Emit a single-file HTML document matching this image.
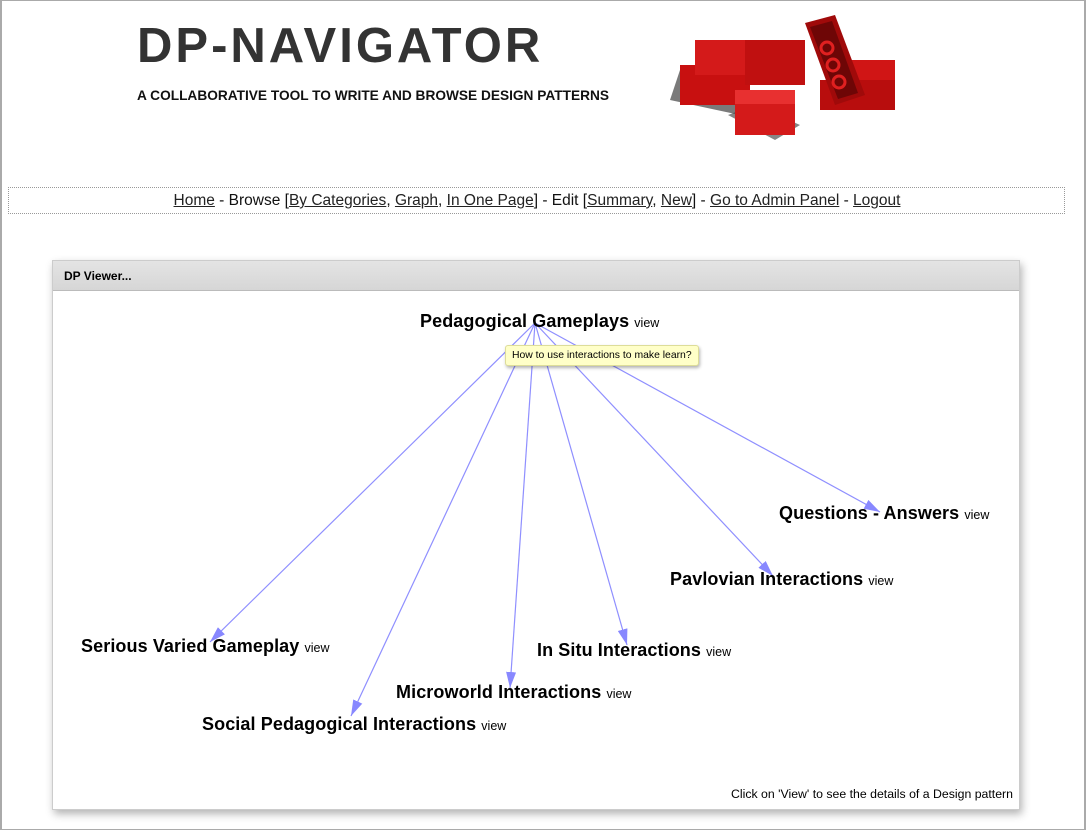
<!DOCTYPE html>
<html><head><meta charset="utf-8"><style>
*{margin:0;padding:0;box-sizing:border-box}
body{width:1086px;height:830px;background:#fff;font-family:"Liberation Sans",Arial,sans-serif;position:relative;overflow:hidden}
.frame{position:absolute;left:0;top:0;width:1086px;height:830px;border:1px solid #aaa;border-left:2px solid #aaa;border-right:2px solid #aaa}
.t{position:absolute;white-space:nowrap}
.n{font-weight:bold;font-size:18px;color:#000;letter-spacing:0.1px}
.v{font-size:12.5px;font-weight:normal;letter-spacing:0}
a{color:#222;text-decoration:underline}
</style></head><body>
<div class="frame"></div>
<div class="t" style="left:137px;top:18px;font-size:49px;font-weight:bold;color:#333;letter-spacing:3px">DP-NAVIGATOR</div>
<div class="t" style="left:137px;top:88px;font-size:13.7px;font-weight:bold;color:#111">A COLLABORATIVE TOOL TO WRITE AND BROWSE DESIGN PATTERNS</div>
<svg style="position:absolute;left:660px;top:15px" width="260" height="145">
<polygon points="10,85 80,100 90,70 20,55" fill="#222" opacity=".6"/>
<rect x="20" y="50" width="70" height="40" fill="#c81010"/>
<rect x="35" y="25" width="55" height="35" fill="#d41a1a"/>
<rect x="85" y="25" width="60" height="45" fill="#c01010"/>
<rect x="175" y="45" width="60" height="45" fill="#d01515"/>
<rect x="160" y="65" width="75" height="30" fill="#b80d0d"/>
<polygon points="145,8 175,0 205,80 175,90" fill="#a00a0a"/>
<polygon points="150,12 172,6 198,78 178,84" fill="#6e0606"/>
<circle cx="167" cy="33" r="6" fill="none" stroke="#e02020" stroke-width="3"/>
<circle cx="173" cy="50" r="6" fill="none" stroke="#e02020" stroke-width="3"/>
<circle cx="179" cy="67" r="6" fill="none" stroke="#e02020" stroke-width="3"/>
<polygon points="68,100 115,125 140,110 95,90" fill="#333" opacity=".6"/>
<rect x="75" y="85" width="60" height="35" fill="#d41a1a"/>
<rect x="75" y="75" width="60" height="14" fill="#e83030"/>
</svg>
<div style="position:absolute;left:8px;top:187px;width:1057px;height:27px;border:1px dotted #999"></div>
<div class="t" style="left:0;width:1074px;top:192px;text-align:center;font-size:15.5px;color:#111"><a>Home</a> - Browse [<a>By Categories</a>, <a>Graph</a>, <a>In One Page</a>] - Edit [<a>Summary</a>, <a>New</a>] - <a>Go to Admin Panel</a> - <a>Logout</a></div>
<div style="position:absolute;left:52px;top:260px;width:968px;height:550px;border:1px solid #ccc;box-shadow:2px 4px 8px rgba(0,0,0,.3);background:#fff">
<div style="height:30px;background:linear-gradient(#e4e4e4,#d6d6d6);border-bottom:1px solid #bbb;font-size:12px;font-weight:bold;padding:8px 11px">DP Viewer...</div>
</div>
<svg style="position:absolute;left:0;top:0" width="1086" height="830">
<defs><marker id="a" markerWidth="16" markerHeight="10" refX="16" refY="5" orient="auto" markerUnits="userSpaceOnUse"><polygon points="0,0 16,5 0,10" fill="#8888ff"/></marker></defs>
<g stroke="#8f8fff" stroke-width="1.2" marker-end="url(#a)" fill="none">
<line x1="535" y1="323" x2="210" y2="642"/>
<line x1="535" y1="323" x2="351" y2="716"/>
<line x1="535" y1="323" x2="510" y2="688"/>
<line x1="535" y1="323" x2="627" y2="645"/>
<line x1="535" y1="323" x2="773" y2="576"/>
<line x1="535" y1="323" x2="880" y2="512"/>
</g></svg>
<div class="t n" style="left:420px;top:311px">Pedagogical Gameplays <span class="v">view</span></div>
<div class="t" style="left:505px;top:345px;background:#ffffc8;border:1px solid #dddd99;border-radius:3px;font-size:10.4px;padding:4px 6px;box-shadow:1px 2px 3px rgba(0,0,0,.3)">How to use interactions to make learn?</div>
<div class="t n" style="left:779px;top:503px">Questions - Answers <span class="v">view</span></div>
<div class="t n" style="left:670px;top:569px">Pavlovian Interactions <span class="v">view</span></div>
<div class="t n" style="left:81px;top:636px">Serious Varied Gameplay <span class="v">view</span></div>
<div class="t n" style="left:537px;top:640px">In Situ Interactions <span class="v">view</span></div>
<div class="t n" style="left:396px;top:682px">Microworld Interactions <span class="v">view</span></div>
<div class="t n" style="left:202px;top:714px">Social Pedagogical Interactions <span class="v">view</span></div>
<div class="t" style="left:731px;top:787px;font-size:12.3px">Click on 'View' to see the details of a Design pattern</div>
</body></html>
